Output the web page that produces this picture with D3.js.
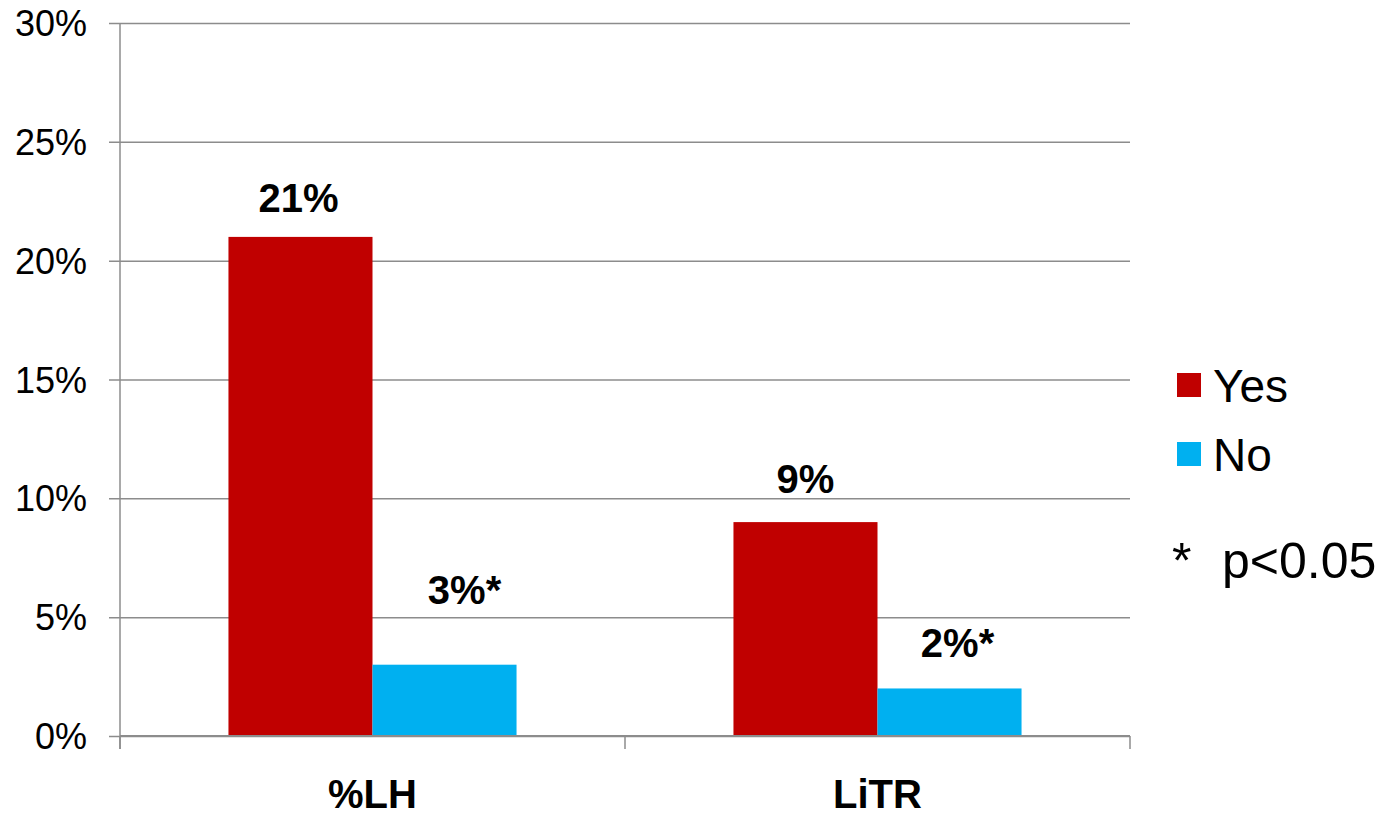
<!DOCTYPE html>
<html>
<head>
<meta charset="utf-8">
<script src="https://cdn.jsdelivr.net/npm/d3@7"></script>
<style>
  html, body { margin: 0; padding: 0; background: #fff; }
  svg { display: block; font-family: "Liberation Sans", Arial, sans-serif; }
</style>
</head>
<body>
<svg id="chart" width="1391" height="817"></svg>
<script>
// ---- data ----
const categories = ["%LH", "LiTR"];
const seriesNames = ["Yes", "No"];
const yesValues = [0.21, 0.09];
const noValues = [0.03, 0.02];
const valueLabels = [["21%", "3%*"], ["9%", "2%*"]];
const yTicks = [0, 0.05, 0.10, 0.15, 0.20, 0.25, 0.30];
const footnote = ["*", "p<0.05"];

// ---- layout / style ----
const colors = { Yes: "#C00000", No: "#00B0F0" };
const gridColor = "#8c8c8c";
const plot = { left: 120, right: 1130, top: 23, bottom: 736 };
const labelDy = [[-25, -61], [-29, -31]];
const labelDx = [[-2, 20], [0, 8]];

const svg = d3.select("#chart");
const y = d3.scaleLinear().domain([0, 0.30]).range([plot.bottom, plot.top]);
const x0 = d3.scaleBand().domain(categories).range([plot.left, plot.right]).padding(0);
const x1 = d3.scaleBand().domain(seriesNames).range([0, x0.bandwidth()])
  .paddingInner(0).paddingOuter(0.753);

// gridlines + y axis
const yAxis = d3.axisLeft(y).tickValues(yTicks)
  .tickFormat(d3.format(".0%"))
  .tickSize(plot.right - plot.left + 11).tickPadding(22);
const gy = svg.append("g").attr("transform", `translate(${plot.right},0)`).call(yAxis);
gy.select(".domain").remove();
gy.selectAll(".tick line").attr("stroke", gridColor).attr("stroke-width", 1.5);
gy.selectAll(".tick text").attr("fill", "#000").style("font-size", "36px")
  .attr("dy", "0.35em");

// vertical y axis line
svg.append("line").attr("x1", plot.left).attr("x2", plot.left)
  .attr("y1", plot.top).attr("y2", plot.bottom + 13)
  .attr("stroke", gridColor).attr("stroke-width", 1.5);

// bars
const data = categories.map((c, i) => ({ cat: c, i, vals: [yesValues[i], noValues[i]] }));
const groups = svg.append("g").selectAll("g").data(data).join("g")
  .attr("transform", d => `translate(${x0(d.cat)},0)`);
groups.selectAll("rect").data(d => d.vals.map((v, j) => ({ s: seriesNames[j], v })))
  .join("rect")
  .attr("x", d => x1(d.s)).attr("width", x1.bandwidth())
  .attr("y", d => y(d.v)).attr("height", d => y(0) - y(d.v))
  .attr("fill", d => colors[d.s]);

// bottom axis line + ticks at category boundaries
svg.append("line").attr("x1", plot.left).attr("x2", plot.right)
  .attr("y1", y(0)).attr("y2", y(0)).attr("stroke", gridColor).attr("stroke-width", 2);
const bounds = categories.map(c => x0(c)).concat([x0.range()[1]]);
svg.selectAll(".xtick").data(bounds).join("line").attr("class", "xtick")
  .attr("x1", d => d).attr("x2", d => d)
  .attr("y1", y(0)).attr("y2", y(0) + 13)
  .attr("stroke", gridColor).attr("stroke-width", 1.5);

// category labels
svg.selectAll(".cat").data(categories).join("text").attr("class", "cat")
  .attr("x", d => x0(d) + x0.bandwidth() / 2).attr("y", 808)
  .attr("text-anchor", "middle").style("font-size", "40px").style("font-weight", "bold")
  .text(d => d);

// value labels
data.forEach((d, i) => {
  d.vals.forEach((v, j) => {
    const cx = x0(d.cat) + x1(seriesNames[j]) + x1.bandwidth() / 2 + labelDx[i][j];
    svg.append("text")
      .attr("x", cx).attr("y", y(v) + labelDy[i][j])
      .attr("text-anchor", "middle")
      .style("font-size", "40px").style("font-weight", "bold")
      .text(valueLabels[i][j]);
  });
});

// legend
const legend = svg.append("g");
seriesNames.forEach((s, k) => {
  const yy = 373 + k * 69;
  legend.append("rect").attr("x", 1177).attr("y", yy).attr("width", 24).attr("height", 24)
    .attr("fill", colors[s]);
  legend.append("text").attr("x", 1213).attr("y", yy + 29).style("font-size", "46px").text(s);
});
svg.append("text").attr("x", 1172).attr("y", 578).style("font-size", "50px").text(footnote[0]);
svg.append("text").attr("x", 1222).attr("y", 578).style("font-size", "50px").text(footnote[1]);
</script>
</body>
</html>
